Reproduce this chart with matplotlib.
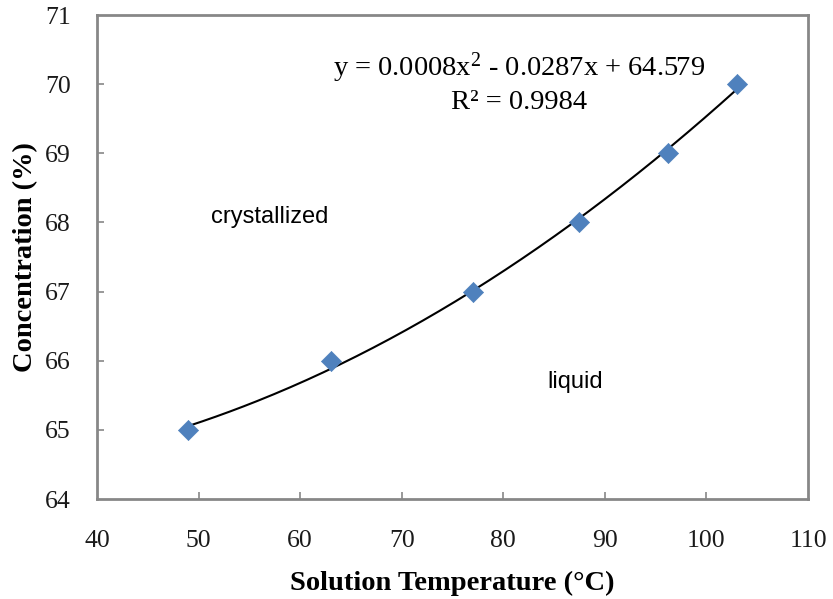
import numpy as np
import matplotlib
matplotlib.use("Agg")
import matplotlib.pyplot as plt

plt.rcParams["mathtext.fontset"] = "custom"
plt.rcParams["mathtext.rm"] = "Liberation Serif"
plt.rcParams["mathtext.it"] = "Liberation Serif:italic"

# Measured solution temperatures and concentrations
temperature = [49, 63, 77, 87.5, 96.2, 103]
concentration = [65, 66, 67, 68, 69, 70]

# Reported second-order trendline (a*x^2 + b*x + c) and its R²
fit_coeffs = [0.0008, -0.0287, 64.579]
r_squared = 0.9984

x_ticks = [40, 50, 60, 70, 80, 90, 100, 110]
y_ticks = [64, 65, 66, 67, 68, 69, 70, 71]

serif = "Liberation Serif"
sans = "Liberation Sans"
spine_gray = "#878787"
marker_blue = "#4F81BD"

fig = plt.figure(figsize=(8.33, 5.99), dpi=100)
ax = fig.add_axes([97 / 833, 1 - 499 / 599, (808 - 97) / 833, (499 - 15) / 599])

# Least-squares quadratic trendline through the measurements
poly = np.polyfit(temperature, concentration, 2)
xs = np.linspace(min(temperature), max(temperature), 200)
ax.plot(xs, np.polyval(poly, xs), color="black", lw=1.5, zorder=2)

ax.scatter(temperature, concentration, marker="D", s=105, color=marker_blue,
           edgecolors=marker_blue, linewidths=0.5, zorder=3)

ax.set_xlim(40, 110)
ax.set_ylim(64, 71)
ax.set_xticks(x_ticks)
ax.set_yticks(y_ticks)
ax.set_xticklabels([str(v) for v in x_ticks], fontfamily=serif, fontsize=18.5, color="#1a1a1a")
ax.set_yticklabels([str(v) for v in y_ticks], fontfamily=serif, fontsize=18.5, color="#1a1a1a")
ax.tick_params(axis="both", direction="in", length=5, width=1.2, color=spine_gray)
ax.tick_params(axis="x", pad=22)
ax.tick_params(axis="y", pad=19)
ax.xaxis.get_major_ticks()[0].tick1line.set_visible(False)
ax.xaxis.get_major_ticks()[-1].tick1line.set_visible(False)
ax.yaxis.get_major_ticks()[0].tick1line.set_visible(False)
ax.yaxis.get_major_ticks()[-1].tick1line.set_visible(False)

for side in ["left", "bottom", "right", "top"]:
    ax.spines[side].set_color(spine_gray)
    ax.spines[side].set_linewidth(2)

ax.set_xlabel("Solution Temperature (°C)", fontfamily=serif, fontweight="bold",
              fontsize=20.5, labelpad=14)
ax.set_ylabel("Concentration (%)", fontfamily=serif, fontweight="bold",
              fontsize=20.5, labelpad=5)

a, b, c = fit_coeffs
eq = f"y = {a:.4f}x$^{{2}}$ - {abs(b):.4f}x + {c:.3f}"
ax.text(81.6, 70.23, eq, fontfamily=serif, fontsize=20.5, ha="center", va="center")
ax.text(81.6, 69.73, f"R² = {r_squared:.4f}", fontfamily=serif, fontsize=20.5,
        ha="center", va="center")

ax.text(57.0, 68.08, "crystallized", fontfamily=sans, fontsize=17, ha="center", va="center")
ax.text(87.06, 65.69, "liquid", fontfamily=sans, fontsize=17, ha="center", va="center")

fig.savefig("out.png", dpi=100)
